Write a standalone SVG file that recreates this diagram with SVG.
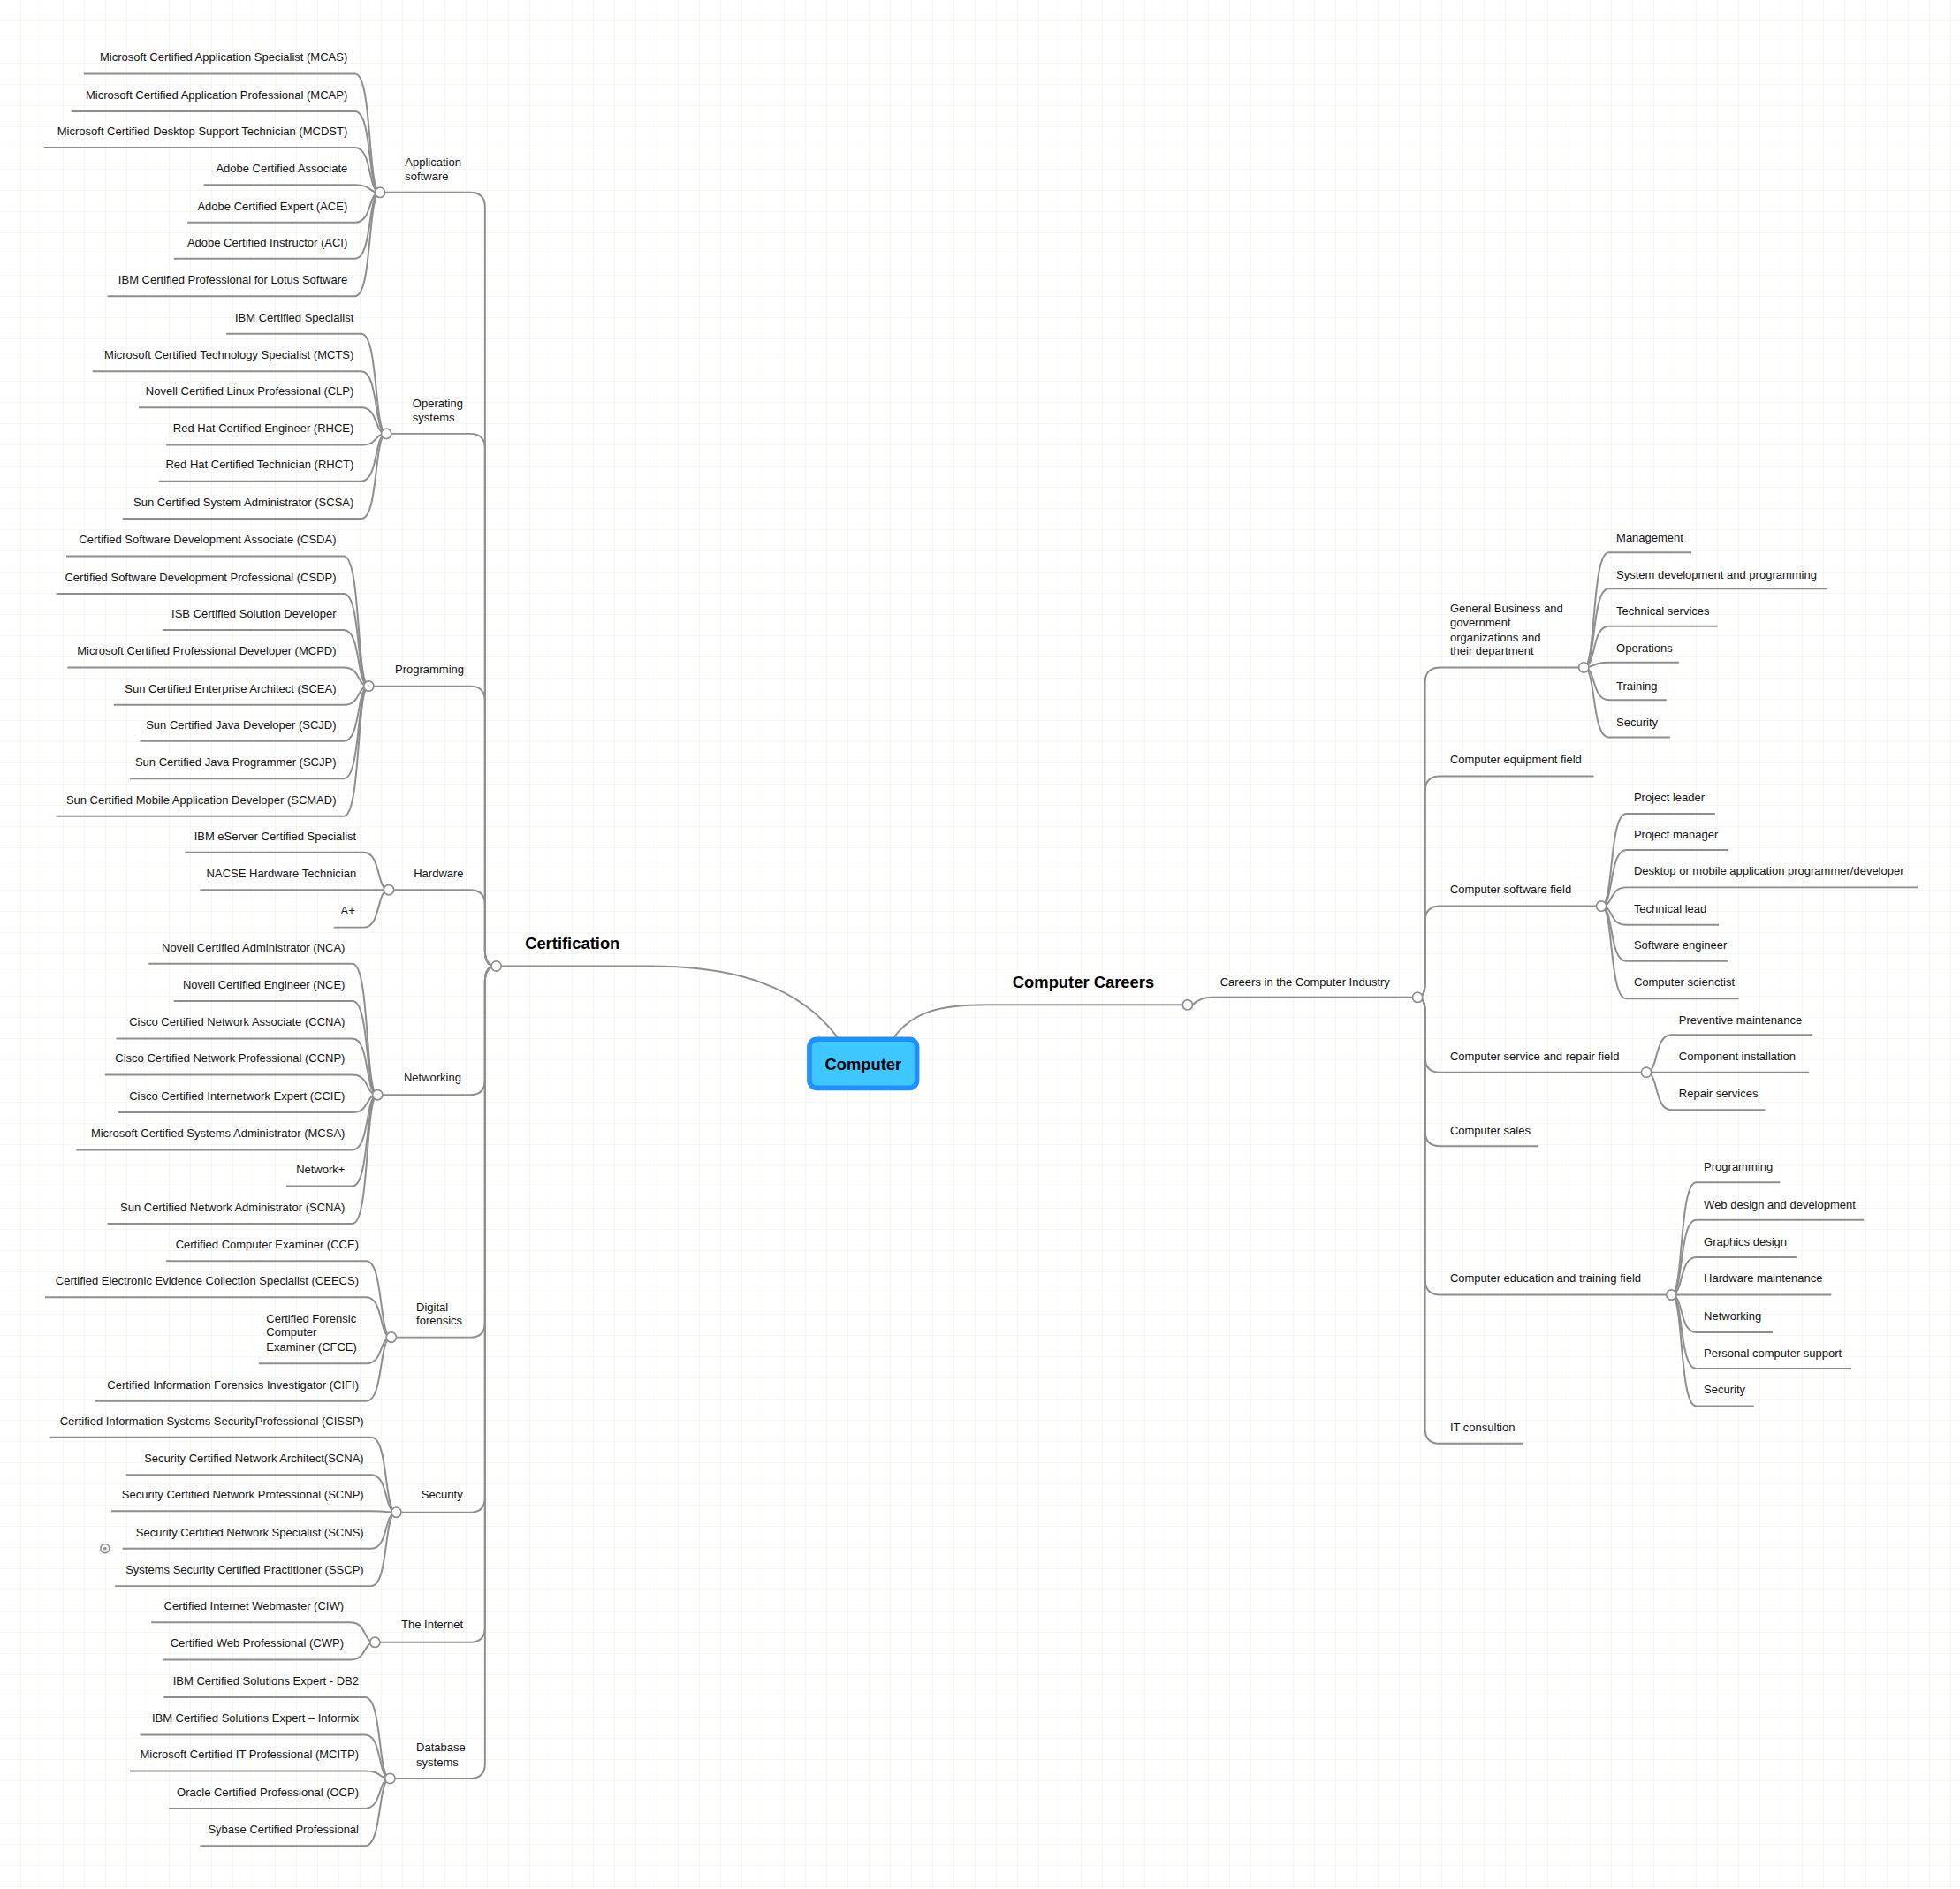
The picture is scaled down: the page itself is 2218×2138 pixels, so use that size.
<svg xmlns="http://www.w3.org/2000/svg" width="2218" height="2138" viewBox="0 0 2218 2138">
<defs>
<pattern id="grid" width="24" height="24" patternUnits="userSpaceOnUse"><path d="M24 0V24H0" fill="none" stroke="#e6f0da" stroke-width="1"/></pattern>
<style>
.t{font-family:"Liberation Sans",Arial,sans-serif;font-size:9.2px;fill:#111}
.e{text-anchor:end}
.b{font-family:"Liberation Sans",Arial,sans-serif;font-size:13px;font-weight:bold;fill:#000}
.c{fill:none;stroke:#8e8e8e;stroke-width:1.4}
.h{fill:#fff;stroke:#8e8e8e;stroke-width:1.2}
</style>
</defs>
<rect width="2218" height="2138" fill="#fff"/>
<rect width="2218" height="2138" fill="url(#grid)"/>
<g transform="scale(1.4146)">
<g id="connectors">
<path class="c" d="M670,830 C640,790 590,773 520,773 L401,773"/>
<path class="c" d="M715,830 C730,810 750,804 790,804 L946,804"/>
<path class="c" d="M954,804 Q960,798 970,798 L1130,798"/>
<path class="c" d="M397,773 Q388,773 388,761 L388,166 Q388,154 376,154 L304,154"/>
<path class="c" d="M397,773 Q388,773 388,761 L388,359 Q388,347 376,347 L309,347"/>
<path class="c" d="M397,773 Q388,773 388,761 L388,561 Q388,549 376,549 L295,549"/>
<path class="c" d="M397,773 Q388,773 388,761 L388,724 Q388,712 376,712 L311,712"/>
<path class="c" d="M397,773 Q388,773 388,785 L388,864 Q388,876 376,876 L302,876"/>
<path class="c" d="M397,773 Q388,773 388,785 L388,1058 Q388,1070 376,1070 L313,1070"/>
<path class="c" d="M397,773 Q388,773 388,785 L388,1198 Q388,1210 376,1210 L317,1210"/>
<path class="c" d="M397,773 Q388,773 388,785 L388,1302 Q388,1314 376,1314 L300,1314"/>
<path class="c" d="M397,773 Q388,773 388,785 L388,1411 Q388,1423 376,1423 L312,1423"/>
<path class="c" d="M1134,798 Q1140,798 1140,786 L1140,546 Q1140,534 1152,534 L1267,534"/>
<path class="c" d="M1134,798 Q1140,798 1140,786 L1140,633 Q1140,621 1152,621 L1275,621"/>
<path class="c" d="M1134,798 Q1140,798 1140,786 L1140,737 Q1140,725 1152,725 L1281,725"/>
<path class="c" d="M1134,798 Q1140,798 1140,810 L1140,846 Q1140,858 1152,858 L1317,858"/>
<path class="c" d="M1134,798 Q1140,798 1140,810 L1140,905 Q1140,917 1152,917 L1230,917"/>
<path class="c" d="M1134,798 Q1140,798 1140,810 L1140,1024 Q1140,1036 1152,1036 L1337,1036"/>
<path class="c" d="M1134,798 Q1140,798 1140,810 L1140,1143 Q1140,1155 1152,1155 L1218,1155"/>
<path class="c" d="M1267,534 C1277,534 1273,442 1287,442 L1353,442"/>
<path class="c" d="M1267,534 C1277,534 1273,471 1287,471 L1462,471"/>
<path class="c" d="M1267,534 C1277,534 1273,501 1287,501 L1374,501"/>
<path class="c" d="M1267,534 C1277,534 1273,530 1287,530 L1343,530"/>
<path class="c" d="M1267,534 C1277,534 1273,560 1287,560 L1333,560"/>
<path class="c" d="M1267,534 C1277,534 1273,590 1287,590 L1336,590"/>
<path class="c" d="M1281,725 C1291,725 1287,651 1301,651 L1372,651"/>
<path class="c" d="M1281,725 C1291,725 1287,680 1301,680 L1382,680"/>
<path class="c" d="M1281,725 C1291,725 1287,710 1301,710 L1534,710"/>
<path class="c" d="M1281,725 C1291,725 1287,740 1301,740 L1375,740"/>
<path class="c" d="M1281,725 C1291,725 1287,769 1301,769 L1382,769"/>
<path class="c" d="M1281,725 C1291,725 1287,799 1301,799 L1391,799"/>
<path class="c" d="M1317,858 C1327,858 1323,828 1337,828 L1450,828"/>
<path class="c" d="M1317,858 L1447,858"/>
<path class="c" d="M1317,858 C1327,858 1323,888 1337,888 L1412,888"/>
<path class="c" d="M1337,1036 C1347,1036 1343,946 1357,946 L1424,946"/>
<path class="c" d="M1337,1036 C1347,1036 1343,976 1357,976 L1491,976"/>
<path class="c" d="M1337,1036 C1347,1036 1343,1006 1357,1006 L1437,1006"/>
<path class="c" d="M1337,1036 L1465,1036"/>
<path class="c" d="M1337,1036 C1347,1036 1343,1066 1357,1066 L1418,1066"/>
<path class="c" d="M1337,1036 C1347,1036 1343,1095 1357,1095 L1481,1095"/>
<path class="c" d="M1337,1036 C1347,1036 1343,1125 1357,1125 L1403,1125"/>
<path class="c" d="M304,154 C294,154 298,59 284,59 L67,59"/>
<path class="c" d="M304,154 C294,154 298,89 284,89 L57,89"/>
<path class="c" d="M304,154 C294,154 298,118 284,118 L35,118"/>
<path class="c" d="M304,154 C294,154 298,148 284,148 L163,148"/>
<path class="c" d="M304,154 C294,154 298,178 284,178 L150,178"/>
<path class="c" d="M304,154 C294,154 298,207 284,207 L139,207"/>
<path class="c" d="M304,154 C294,154 298,237 284,237 L86,237"/>
<path class="c" d="M309,347 C299,347 303,267 289,267 L181,267"/>
<path class="c" d="M309,347 C299,347 303,297 289,297 L74,297"/>
<path class="c" d="M309,347 C299,347 303,326 289,326 L111,326"/>
<path class="c" d="M309,347 C299,347 303,356 289,356 L133,356"/>
<path class="c" d="M309,347 C299,347 303,385 289,385 L127,385"/>
<path class="c" d="M309,347 C299,347 303,415 289,415 L98,415"/>
<path class="c" d="M295,549 C285,549 289,445 275,445 L53,445"/>
<path class="c" d="M295,549 C285,549 289,475 275,475 L45,475"/>
<path class="c" d="M295,549 C285,549 289,504 275,504 L130,504"/>
<path class="c" d="M295,549 C285,549 289,534 275,534 L54,534"/>
<path class="c" d="M295,549 C285,549 289,564 275,564 L91,564"/>
<path class="c" d="M295,549 C285,549 289,593 275,593 L112,593"/>
<path class="c" d="M295,549 C285,549 289,623 275,623 L104,623"/>
<path class="c" d="M295,549 C285,549 289,653 275,653 L45,653"/>
<path class="c" d="M311,712 C301,712 305,682 291,682 L148,682"/>
<path class="c" d="M311,712 L160,712"/>
<path class="c" d="M311,712 C301,712 305,742 291,742 L267,742"/>
<path class="c" d="M302,876 C292,876 296,771 282,771 L119,771"/>
<path class="c" d="M302,876 C292,876 296,801 282,801 L139,801"/>
<path class="c" d="M302,876 C292,876 296,831 282,831 L93,831"/>
<path class="c" d="M302,876 C292,876 296,860 282,860 L84,860"/>
<path class="c" d="M302,876 C292,876 296,890 282,890 L94,890"/>
<path class="c" d="M302,876 C292,876 296,920 282,920 L61,920"/>
<path class="c" d="M302,876 C292,876 296,949 282,949 L229,949"/>
<path class="c" d="M302,876 C292,876 296,979 282,979 L86,979"/>
<path class="c" d="M313,1070 C303,1070 307,1009 293,1009 L133,1009"/>
<path class="c" d="M313,1070 C303,1070 307,1038 293,1038 L36,1038"/>
<path class="c" d="M313,1070 C303,1070 307,1091 293,1091 L207,1091"/>
<path class="c" d="M313,1070 C303,1070 307,1121 293,1121 L76,1121"/>
<path class="c" d="M317,1210 C307,1210 311,1150 297,1150 L40,1150"/>
<path class="c" d="M317,1210 C307,1210 311,1180 297,1180 L101,1180"/>
<path class="c" d="M317,1210 C307,1210 311,1209 297,1209 L89,1209"/>
<path class="c" d="M317,1210 C307,1210 311,1239 297,1239 L98,1239"/>
<path class="c" d="M317,1210 C307,1210 311,1269 297,1269 L92,1269"/>
<path class="c" d="M300,1314 C290,1314 294,1298 280,1298 L121,1298"/>
<path class="c" d="M300,1314 C290,1314 294,1328 280,1328 L130,1328"/>
<path class="c" d="M312,1423 C302,1423 306,1358 292,1358 L131,1358"/>
<path class="c" d="M312,1423 C302,1423 306,1388 292,1388 L112,1388"/>
<path class="c" d="M312,1423 C302,1423 306,1417 292,1417 L104,1417"/>
<path class="c" d="M312,1423 C302,1423 306,1447 292,1447 L135,1447"/>
<path class="c" d="M312,1423 C302,1423 306,1477 292,1477 L160,1477"/>
</g>
<g id="hubs">
<circle class="h" cx="397" cy="773" r="4"/><circle class="h" cx="950" cy="804" r="4"/><circle class="h" cx="1134" cy="798" r="4"/>
<circle class="h" cx="304" cy="154" r="4"/><circle class="h" cx="309" cy="347" r="4"/><circle class="h" cx="295" cy="549" r="4"/>
<circle class="h" cx="311" cy="712" r="4"/><circle class="h" cx="302" cy="876" r="4"/><circle class="h" cx="313" cy="1070" r="4"/>
<circle class="h" cx="317" cy="1210" r="4"/><circle class="h" cx="300" cy="1314" r="4"/><circle class="h" cx="312" cy="1423" r="4"/>
<circle class="h" cx="1267" cy="534" r="4"/><circle class="h" cx="1281" cy="725" r="4"/><circle class="h" cx="1317" cy="858" r="4"/><circle class="h" cx="1337" cy="1036" r="4"/>
<circle class="h" cx="84" cy="1239" r="3.5"/><circle cx="84" cy="1239" r="1.3" fill="#8e8e8e"/>
</g>
<g id="computer">
<rect x="647.5" y="831.5" width="86" height="39" rx="6" fill="#3ec6ff" stroke="#1e90ff" stroke-width="4"/>
<text class="b" x="690.5" y="856" text-anchor="middle" font-size="14">Computer</text>
</g>
<g id="certification"><text class="b" x="420" y="759">Certification</text></g>
<g id="careers"><text class="b" x="810" y="790">Computer Careers</text></g>
<g id="industry"><text class="t" x="976" y="789">Careers in the Computer Industry</text></g>
<g id="right-nodes">
<text class="t" x="1160"><tspan x="1160" y="490">General Business and</tspan><tspan x="1160" y="501">government</tspan><tspan x="1160" y="513">organizations and</tspan><tspan x="1160" y="524">their department</tspan></text>
<text class="t" x="1293" y="433">Management</text>
<text class="t" x="1293" y="463">System development and programming</text>
<text class="t" x="1293" y="492">Technical services</text>
<text class="t" x="1293" y="522">Operations</text>
<text class="t" x="1293" y="552">Training</text>
<text class="t" x="1293" y="581">Security</text>
<text class="t" x="1160" y="611">Computer equipment field</text>
<text class="t" x="1160" y="715">Computer software field</text>
<text class="t" x="1307" y="641">Project leader</text>
<text class="t" x="1307" y="671">Project manager</text>
<text class="t" x="1307" y="700">Desktop or mobile application programmer/developer</text>
<text class="t" x="1307" y="730">Technical lead</text>
<text class="t" x="1307" y="759">Software engineer</text>
<text class="t" x="1307" y="789">Computer scienctist</text>
<text class="t" x="1160" y="848">Computer service and repair field</text>
<text class="t" x="1343" y="819">Preventive maintenance</text>
<text class="t" x="1343" y="848">Component installation</text>
<text class="t" x="1343" y="878">Repair services</text>
<text class="t" x="1160" y="908">Computer sales</text>
<text class="t" x="1160" y="1026">Computer education and training field</text>
<text class="t" x="1363" y="937">Programming</text>
<text class="t" x="1363" y="967">Web design and development</text>
<text class="t" x="1363" y="997">Graphics design</text>
<text class="t" x="1363" y="1026">Hardware maintenance</text>
<text class="t" x="1363" y="1056">Networking</text>
<text class="t" x="1363" y="1086">Personal computer support</text>
<text class="t" x="1363" y="1115">Security</text>
<text class="t" x="1160" y="1145">IT consultion</text>
</g>
<g id="left-groups">
<text class="t"><tspan x="324" y="133">Application</tspan><tspan x="324" y="144">software</tspan></text>
<text class="t"><tspan x="330" y="326">Operating</tspan><tspan x="330" y="337">systems</tspan></text>
<text class="t" x="316" y="539">Programming</text>
<text class="t" x="331" y="702">Hardware</text>
<text class="t" x="323" y="865">Networking</text>
<text class="t"><tspan x="333" y="1049">Digital</tspan><tspan x="333" y="1060">forensics</tspan></text>
<text class="t" x="337" y="1199">Security</text>
<text class="t" x="321" y="1303">The Internet</text>
<text class="t"><tspan x="333" y="1401">Database</tspan><tspan x="333" y="1413">systems</tspan></text>
</g>
<g id="left-leaves">
<text class="t e" x="278" y="49">Microsoft Certified Application Specialist (MCAS)</text>
<text class="t e" x="278" y="79">Microsoft Certified Application Professional (MCAP)</text>
<text class="t e" x="278" y="108">Microsoft Certified Desktop Support Technician (MCDST)</text>
<text class="t e" x="278" y="138">Adobe Certified Associate</text>
<text class="t e" x="278" y="168">Adobe Certified Expert (ACE)</text>
<text class="t e" x="278" y="197">Adobe Certified Instructor (ACI)</text>
<text class="t e" x="278" y="227">IBM Certified Professional for Lotus Software</text>
<text class="t e" x="283" y="257">IBM Certified Specialist</text>
<text class="t e" x="283" y="287">Microsoft Certified Technology Specialist (MCTS)</text>
<text class="t e" x="283" y="316">Novell Certified Linux Professional (CLP)</text>
<text class="t e" x="283" y="346">Red Hat Certified Engineer (RHCE)</text>
<text class="t e" x="283" y="375">Red Hat Certified Technician (RHCT)</text>
<text class="t e" x="283" y="405">Sun Certified System Administrator (SCSA)</text>
<text class="t e" x="269" y="435">Certified Software Development Associate (CSDA)</text>
<text class="t e" x="269" y="465">Certified Software Development Professional (CSDP)</text>
<text class="t e" x="269" y="494">ISB Certified Solution Developer</text>
<text class="t e" x="269" y="524">Microsoft Certified Professional Developer (MCPD)</text>
<text class="t e" x="269" y="554">Sun Certified Enterprise Architect (SCEA)</text>
<text class="t e" x="269" y="583">Sun Certified Java Developer (SCJD)</text>
<text class="t e" x="269" y="613">Sun Certified Java Programmer (SCJP)</text>
<text class="t e" x="269" y="643">Sun Certified Mobile Application Developer (SCMAD)</text>
<text class="t e" x="285" y="672">IBM eServer Certified Specialist</text>
<text class="t e" x="285" y="702">NACSE Hardware Technician</text>
<text class="t e" x="284" y="732">A+</text>
<text class="t e" x="276" y="761">Novell Certified Administrator (NCA)</text>
<text class="t e" x="276" y="791">Novell Certified Engineer (NCE)</text>
<text class="t e" x="276" y="821">Cisco Certified Network Associate (CCNA)</text>
<text class="t e" x="276" y="850">Cisco Certified Network Professional (CCNP)</text>
<text class="t e" x="276" y="880">Cisco Certified Internetwork Expert (CCIE)</text>
<text class="t e" x="276" y="910">Microsoft Certified Systems Administrator (MCSA)</text>
<text class="t e" x="276" y="939">Network+</text>
<text class="t e" x="276" y="969">Sun Certified Network Administrator (SCNA)</text>
<text class="t e" x="287" y="999">Certified Computer Examiner (CCE)</text>
<text class="t e" x="287" y="1028">Certified Electronic Evidence Collection Specialist (CEECS)</text>
<text class="t"><tspan x="213" y="1058">Certified Forensic</tspan><tspan x="213" y="1069">Computer</tspan><tspan x="213" y="1081">Examiner (CFCE)</tspan></text>
<text class="t e" x="287" y="1111">Certified Information Forensics Investigator (CIFI)</text>
<text class="t e" x="291" y="1140">Certified Information Systems SecurityProfessional (CISSP)</text>
<text class="t e" x="291" y="1170">Security Certified Network Architect(SCNA)</text>
<text class="t e" x="291" y="1199">Security Certified Network Professional (SCNP)</text>
<text class="t e" x="291" y="1229">Security Certified Network Specialist (SCNS)</text>
<text class="t e" x="291" y="1259">Systems Security Certified Practitioner (SSCP)</text>
<text class="t e" x="275" y="1288">Certified Internet Webmaster (CIW)</text>
<text class="t e" x="275" y="1318">Certified Web Professional (CWP)</text>
<text class="t e" x="287" y="1348">IBM Certified Solutions Expert - DB2</text>
<text class="t e" x="287" y="1378">IBM Certified Solutions Expert – Informix</text>
<text class="t e" x="287" y="1407">Microsoft Certified IT Professional (MCITP)</text>
<text class="t e" x="287" y="1437">Oracle Certified Professional (OCP)</text>
<text class="t e" x="287" y="1467">Sybase Certified Professional</text>
</g>
</g>
</svg>
